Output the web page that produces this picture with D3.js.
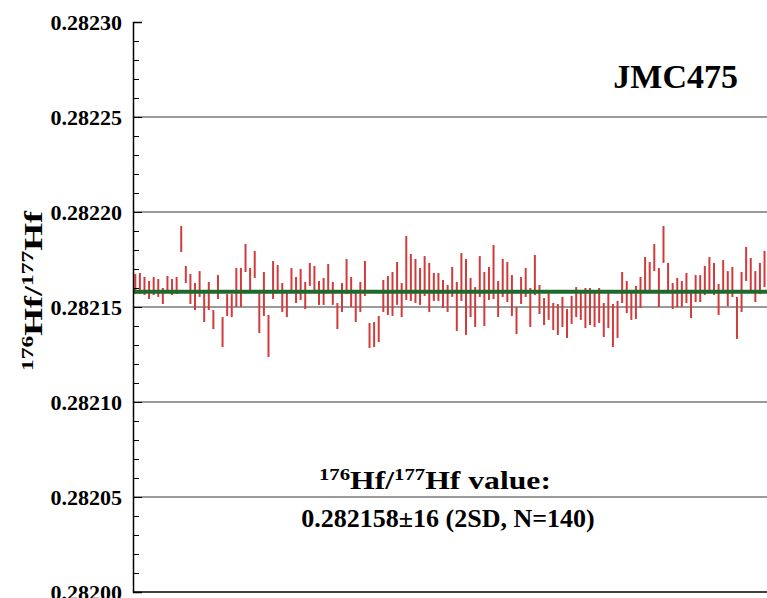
<!DOCTYPE html>
<html>
<head>
<meta charset="utf-8">
<script src="https://cdn.jsdelivr.net/npm/d3@7"></script>
<style>
  body { margin: 0; background: #fff; }
  svg { display: block; }
  text { font-family: "Liberation Serif", "Times New Roman", serif; font-weight: bold; }
</style>
</head>
<body>
<div id="chart"></div>
<script>
// upper and lower ends of each 2SE error bar (176Hf/177Hf)
const hiVals = [
  0.2821674, 0.2821679, 0.2821658, 0.2821637, 0.2821658, 0.2821647, 0.2821600, 0.2821663, 0.2821647, 0.2821658,
  0.2821926, 0.2821716, 0.2821674, 0.2821626, 0.2821689, 0.2821579, 0.2821632, 0.2821484, 0.2821668, 0.2821447,
  0.2821568, 0.2821568, 0.2821705, 0.2821705, 0.2821832, 0.2821705, 0.2821795, 0.2821574, 0.2821684, 0.2821458,
  0.2821742, 0.2821721, 0.2821626, 0.2821589, 0.2821705, 0.2821658, 0.2821700, 0.2821632, 0.2821732, 0.2821716,
  0.2821637, 0.2821653, 0.2821726, 0.2821632, 0.2821521, 0.2821626, 0.2821753, 0.2821658, 0.2821584, 0.2821632,
  0.2821742, 0.2821416, 0.2821421, 0.2821453, 0.2821642, 0.2821663, 0.2821684, 0.2821737, 0.2821626, 0.2821874,
  0.2821779, 0.2821753, 0.2821705, 0.2821768, 0.2821732, 0.2821679, 0.2821679, 0.2821642, 0.2821616, 0.2821711,
  0.2821632, 0.2821784, 0.2821753, 0.2821653, 0.2821605, 0.2821768, 0.2821684, 0.2821711, 0.2821826, 0.2821637,
  0.2821753, 0.2821737, 0.2821668, 0.2821500, 0.2821658, 0.2821705, 0.2821600, 0.2821774, 0.2821616, 0.2821547,
  0.2821574, 0.2821521, 0.2821516, 0.2821553, 0.2821489, 0.2821558, 0.2821605, 0.2821579, 0.2821600, 0.2821600,
  0.2821589, 0.2821600, 0.2821521, 0.2821574, 0.2821516, 0.2821532, 0.2821684, 0.2821637, 0.2821574, 0.2821611,
  0.2821658, 0.2821763, 0.2821737, 0.2821832, 0.2821705, 0.2821926, 0.2821732, 0.2821626, 0.2821653, 0.2821637,
  0.2821679, 0.2821589, 0.2821668, 0.2821668, 0.2821716, 0.2821763, 0.2821732, 0.2821621, 0.2821747, 0.2821689,
  0.2821711, 0.2821553, 0.2821684, 0.2821816, 0.2821758, 0.2821689, 0.2821732, 0.2821795, 0.2821774, 0.2821721
];
const loVals = [
  0.2821568, 0.2821568, 0.2821563, 0.2821542, 0.2821563, 0.2821553, 0.2821516, 0.2821574, 0.2821563, 0.2821568,
  0.2821789, 0.2821626, 0.2821516, 0.2821484, 0.2821553, 0.2821421, 0.2821484, 0.2821384, 0.2821542, 0.2821289,
  0.2821453, 0.2821447, 0.2821500, 0.2821500, 0.2821684, 0.2821579, 0.2821653, 0.2821363, 0.2821453, 0.2821237,
  0.2821542, 0.2821579, 0.2821474, 0.2821447, 0.2821589, 0.2821521, 0.2821537, 0.2821489, 0.2821611, 0.2821584,
  0.2821511, 0.2821511, 0.2821584, 0.2821511, 0.2821384, 0.2821474, 0.2821568, 0.2821500, 0.2821421, 0.2821474,
  0.2821558, 0.2821284, 0.2821289, 0.2821316, 0.2821474, 0.2821458, 0.2821453, 0.2821511, 0.2821447, 0.2821537,
  0.2821532, 0.2821521, 0.2821511, 0.2821558, 0.2821474, 0.2821532, 0.2821532, 0.2821495, 0.2821474, 0.2821553,
  0.2821374, 0.2821532, 0.2821353, 0.2821447, 0.2821395, 0.2821553, 0.2821400, 0.2821537, 0.2821542, 0.2821447,
  0.2821553, 0.2821526, 0.2821453, 0.2821358, 0.2821516, 0.2821553, 0.2821395, 0.2821563, 0.2821463, 0.2821405,
  0.2821432, 0.2821379, 0.2821353, 0.2821395, 0.2821337, 0.2821411, 0.2821447, 0.2821432, 0.2821389, 0.2821405,
  0.2821395, 0.2821416, 0.2821342, 0.2821389, 0.2821289, 0.2821337, 0.2821521, 0.2821468, 0.2821432, 0.2821437,
  0.2821495, 0.2821579, 0.2821579, 0.2821689, 0.2821500, 0.2821732, 0.2821579, 0.2821489, 0.2821500, 0.2821500,
  0.2821521, 0.2821442, 0.2821526, 0.2821526, 0.2821563, 0.2821584, 0.2821563, 0.2821458, 0.2821584, 0.2821505,
  0.2821553, 0.2821332, 0.2821474, 0.2821637, 0.2821589, 0.2821526, 0.2821568, 0.2821605, 0.2821589, 0.2821547
];
const meanVal = 0.282158;
const yTicks = [0.28200, 0.28205, 0.28210, 0.28215, 0.28220, 0.28225, 0.28230];
const gridVals = [0.28205, 0.28210, 0.28215, 0.28220, 0.28225];

const width = 767;
const height = 598;

const svg = d3.select('#chart').append('svg')
  .attr('width', width)
  .attr('height', height);

const x = d3.scaleLinear()
  .domain([0.5, hiVals.length + 0.5])
  .range([133, 776]);

const y = d3.scaleLinear()
  .domain([0.28200, 0.28230])
  .range([592, 22]);

// grid lines
svg.append('g')
  .selectAll('line')
  .data(gridVals)
  .enter().append('line')
  .attr('x1', x(0.5))
  .attr('x2', width)
  .attr('y1', d => y(d))
  .attr('y2', d => y(d))
  .attr('stroke', '#9a9a9a')
  .attr('stroke-width', 2);

// error bars
svg.append('g')
  .selectAll('line')
  .data(hiVals.map((h, i) => ({ i: i + 1, hi: h, lo: loVals[i] })))
  .enter().append('line')
  .attr('x1', d => x(d.i))
  .attr('x2', d => x(d.i))
  .attr('y1', d => y(d.hi))
  .attr('y2', d => y(d.lo))
  .attr('stroke', '#d13b3b')
  .attr('stroke-width', 2);

// mean line
svg.append('line')
  .attr('x1', x(0.5))
  .attr('x2', width)
  .attr('y1', y(meanVal))
  .attr('y2', y(meanVal))
  .attr('stroke', '#1d6a2c')
  .attr('stroke-width', 4);

// minor ticks
svg.append('g')
  .attr('transform', `translate(${x(0.5)},0)`)
  .call(d3.axisLeft(y).tickValues(d3.range(0, 31).map(k => 0.28200 + k * 0.00001)).tickSize(-6).tickFormat(''))
  .call(g => g.select('.domain').remove())
  .selectAll('line').attr('stroke', '#000');

// y axis
const yAxis = svg.append('g')
  .attr('transform', `translate(${x(0.5)},0)`)
  .call(d3.axisLeft(y).tickValues(yTicks).tickSize(-9).tickPadding(11).tickFormat(d3.format('.5f')));

yAxis.select('.domain').attr('stroke', '#000').attr('stroke-width', 1.5);
yAxis.selectAll('text')
  .attr('font-size', 22)
  .attr('font-family', '"Liberation Serif", serif')
  .attr('font-weight', 'bold')
  .attr('fill', '#000');

// bottom axis line
svg.append('line')
  .attr('x1', x(0.5))
  .attr('x2', width)
  .attr('y1', y(0.28200))
  .attr('y2', y(0.28200))
  .attr('stroke', '#000')
  .attr('stroke-width', 1.5);

// y title
const yTitle = svg.append('text')
  .attr('transform', 'translate(42,291) rotate(-90)')
  .attr('text-anchor', 'middle')
  .attr('font-size', 26)
  .attr('textLength', 160)
  .attr('lengthAdjust', 'spacingAndGlyphs');
yTitle.append('tspan').attr('font-size', 17).attr('dy', -9).text('176');
yTitle.append('tspan').attr('dy', 9).text('Hf/');
yTitle.append('tspan').attr('font-size', 17).attr('dy', -9).text('177');
yTitle.append('tspan').attr('dy', 9).text('Hf');

// label
svg.append('text')
  .attr('x', 738)
  .attr('y', 88)
  .attr('text-anchor', 'end')
  .attr('font-size', 34)
  .text('JMC475');

// annotation
const ann = svg.append('text')
  .attr('x', 435)
  .attr('y', 489)
  .attr('text-anchor', 'middle')
  .attr('font-size', 26)
  .attr('textLength', 232)
  .attr('lengthAdjust', 'spacingAndGlyphs');
ann.append('tspan').attr('font-size', 17).attr('dy', -9).text('176');
ann.append('tspan').attr('dy', 9).text('Hf/');
ann.append('tspan').attr('font-size', 17).attr('dy', -9).text('177');
ann.append('tspan').attr('dy', 9).text('Hf value:');

svg.append('text')
  .attr('x', 448)
  .attr('y', 527)
  .attr('text-anchor', 'middle')
  .attr('font-size', 26)
  .text('0.282158±16 (2SD, N=140)');
</script>
</body>
</html>
